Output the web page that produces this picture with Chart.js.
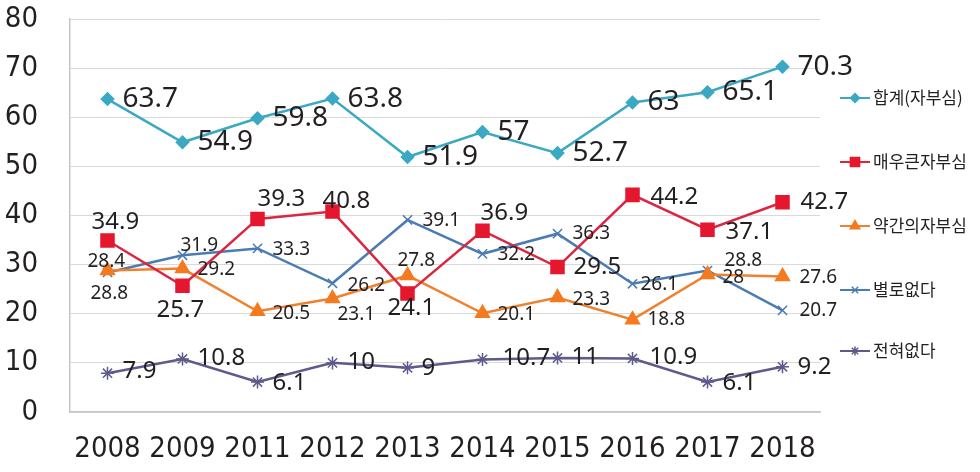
<!DOCTYPE html>
<html>
<head>
<meta charset="utf-8">
<script src="https://cdn.jsdelivr.net/npm/chart.js"></script>
<style>
  html, body { margin: 0; padding: 0; background: #fff; }
</style>
</head>
<body>
<canvas id="pride-chart" width="980" height="472"></canvas>
<script>
const years = ['2008', '2009', '2011', '2012', '2013', '2014', '2015', '2016', '2017', '2018'];
const yTicks = [0, 10, 20, 30, 40, 50, 60, 70, 80];

const totalPride = [63.7, 54.9, 59.8, 63.8, 51.9, 57, 52.7, 63, 65.1, 70.3];
const veryProud = [34.9, 25.7, 39.3, 40.8, 24.1, 36.9, 29.5, 44.2, 37.1, 42.7];
const somewhatProud = [28.8, 29.2, 20.5, 23.1, 27.8, 20.1, 23.3, 18.8, 28, 27.6];
const notVeryProud = [28.4, 31.9, 33.3, 26.2, 39.1, 32.2, 36.3, 26.1, 28.8, 20.7];
const notAtAll = [7.9, 10.8, 6.1, 10, 9, 10.7, 11, 10.9, 6.1, 9.2];

const seriesNames = ['합계(자부심)', '매우큰자부심', '약간의자부심', '별로없다', '전혀없다'];

// where each value label sits: [left edge offset, vertical centre offset] from its point
const labelPlacement = [
  years.map(() => [15, 0]),
  [[-16, -18], [-26, 24], [0, -20], [-10, -10], [-20, 15], [-2, -18], [16, 0], [18, 2], [18, 2], [18, 0]],
  [[-17, 23], [15, 1], [15, 2], [5, 16], [-10, -15], [15, 1], [15, 2], [15, 0], [15, 3], [17, 1]],
  [[-20, -11], [-2, -10], [15, 1], [15, 2], [15, 1], [15, 1], [15, 0], [8, 1], [17, -10], [17, 0]],
  [[15, -2], [15, -1], [15, 1], [15, -1], [14, 0], [20, -1], [14, -1], [17, -1], [15, 1], [15, 0]],
];
const labelFontSize = [28, 24, 19, 19, 24];
const legendRows = [98, 162, 226, 290, 351];
const legendMarkerSize = [4.5, 6.5, 5.5, 4.5, 4.5];

const axisFont = '"DejaVu Sans Condensed", "Roboto Condensed", "Open Sans Condensed", "Liberation Sans Narrow", Roboto, sans-serif';
const textColor = '#231f20';

function makeSeries(label, data, color, pointStyle, radius, extra) {
  return Object.assign({
    label: label,
    data: data,
    borderColor: color,
    backgroundColor: color,
    pointBackgroundColor: color,
    pointBorderColor: color,
    pointStyle: pointStyle,
    pointRadius: radius,
    pointHoverRadius: radius,
    borderWidth: 2.5,
    tension: 0,
  }, extra || {});
}

const valueLabels = {
  id: 'valueLabels',
  afterDatasetsDraw(chart) {
    const ctx = chart.ctx;
    ctx.save();
    ctx.fillStyle = textColor;
    ctx.textAlign = 'left';
    ctx.textBaseline = 'middle';
    chart.data.datasets.forEach((ds, di) => {
      const meta = chart.getDatasetMeta(di);
      ctx.font = labelFontSize[di] + 'px "Noto Sans", sans-serif';
      meta.data.forEach((pt, i) => {
        const [dx, dy] = labelPlacement[di][i];
        ctx.fillText(String(ds.data[i]), pt.x + dx, pt.y + dy);
      });
    });
    ctx.restore();
  }
};

const sideLegend = {
  id: 'sideLegend',
  afterDraw(chart) {
    const ctx = chart.ctx;
    ctx.save();
    chart.data.datasets.forEach((ds, di) => {
      const y = legendRows[di];
      ctx.strokeStyle = ds.borderColor;
      ctx.lineWidth = 2;
      ctx.beginPath();
      ctx.moveTo(840, y);
      ctx.lineTo(870, y);
      ctx.stroke();
      ctx.fillStyle = ds.pointBackgroundColor;
      ctx.strokeStyle = ds.pointBorderColor;
      ctx.lineWidth = 1.5;
      Chart.helpers.drawPoint(ctx, {
        pointStyle: ds.pointStyle,
        radius: legendMarkerSize[di],
        rotation: 0,
        borderWidth: 1.5,
      }, 855, y);
      ctx.fillStyle = textColor;
      ctx.font = '17px "Noto Sans CJK KR", sans-serif';
      ctx.textAlign = 'left';
      ctx.textBaseline = 'middle';
      ctx.fillText(ds.label, 873, y);
    });
    ctx.restore();
  }
};

new Chart(document.getElementById('pride-chart'), {
  type: 'line',
  data: {
    labels: years,
    datasets: [
      makeSeries(seriesNames[0], totalPride, '#3ba8c4', 'rectRot', 5.5),
      makeSeries(seriesNames[1], veryProud, '#dc2540', 'rect', 8.5, { pointBackgroundColor: '#e5172e', pointBorderColor: '#e5172e' }),
      makeSeries(seriesNames[2], somewhatProud, '#f0812f', 'triangle', 7, { pointBackgroundColor: '#f57a1f', pointBorderColor: '#f57a1f' }),
      makeSeries(seriesNames[3], notVeryProud, '#4a7bb3', 'crossRot', 6.5, { pointBorderWidth: 1.5 }),
      makeSeries(seriesNames[4], notAtAll, '#5e5a8c', 'star', 6.5, { pointBorderWidth: 1.5 }),
    ],
  },
  options: {
    responsive: false,
    animation: false,
    devicePixelRatio: 1,
    layout: { padding: { left: 0, right: 160, top: 19, bottom: 0 } },
    plugins: {
      legend: { display: false },
      tooltip: { enabled: false },
    },
    scales: {
      x: {
        type: 'category',
        offset: true,
        grid: { display: false, drawTicks: false },
        border: { display: true, color: '#c6c6c6', width: 1.5 },
        ticks: {
          color: textColor,
          font: { family: axisFont, size: 29 },
          padding: 20,
          maxRotation: 0,
          autoSkip: false,
        },
        afterFit(scale) {
          scale.height = 60;
          scale.paddingLeft = 0;
          scale.paddingRight = 0;
        },
      },
      y: {
        min: yTicks[0],
        max: yTicks[yTicks.length - 1],
        afterBuildTicks(scale) { scale.ticks = yTicks.map(v => ({ value: v })); },
        grid: { color: '#d9d9d9', lineWidth: 1, drawTicks: false },
        border: { display: true, color: '#c6c6c6', width: 1.5 },
        ticks: {
          color: textColor,
          font: { family: axisFont, size: 29 },
          padding: 32,
        },
        afterFit(scale) {
          scale.width = 70;
          scale.paddingTop = 0;
          scale.paddingBottom = 0;
        },
      },
    },
  },
  plugins: [valueLabels, sideLegend],
});
</script>
</body>
</html>
